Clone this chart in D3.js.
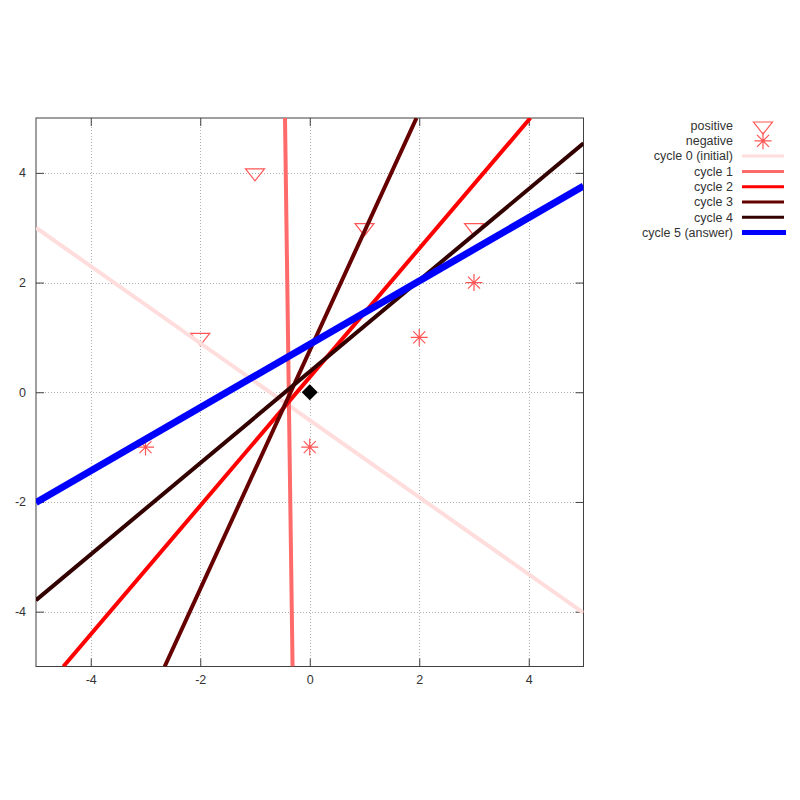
<!DOCTYPE html>
<html><head><meta charset="utf-8">
<script src="https://cdn.jsdelivr.net/npm/d3@7"></script>
<style>body{margin:0;background:#fff}svg{display:block}</style>
</head><body>
<svg id="c" width="800" height="800"></svg>
<script>
const xTicks = [-4, -2, 0, 2, 4];
const yTicks = [-4, -2, 0, 2, 4];
const positive = [[-1, 4], [1, 3], [3, 3], [-2, 1]];
const negative = [[-3, -1], [0, -1], [2, 1], [3, 2]];
const origin = [[0, 0]];
const cycleNames = ["cycle 0 (initial)", "cycle 1", "cycle 2", "cycle 3", "cycle 4", "cycle 5 (answer)"];
// each line given by two points [x1, y1, x2, y2]
const cycleLines = [
  [-5, 3.0, 5, -4.02],
  [-0.452, 5, -0.314, -5],
  [-4.50, -5, 4.03, 5],
  [-2.65, -5, 1.95, 5],
  [-5, -3.79, 5, 4.54],
  [-5, -2.01, 5, 3.76]
];
const cycleColors = ["#ffdddd", "#ff6b6b", "#ff0000", "#660000", "#330000", "#0000ff"];
const cycleWidths = [4, 4, 4, 4, 4, 7];

const svg = d3.select("#c");
const L = 36, R = 583.5, T = 118, B = 666.5;
const x = d3.scaleLinear().domain([-5, 5]).range([L, R]);
const y = d3.scaleLinear().domain([-5, 5]).range([B, T]);
const font = "'Liberation Sans', Arial, sans-serif";
const fmt = d => String(d);

svg.append("defs").append("clipPath").attr("id", "clip")
  .append("rect").attr("x", L).attr("y", T).attr("width", R - L).attr("height", B - T);

// grid
const grid = svg.append("g").attr("stroke", "#b0b0b0").attr("stroke-width", 1).attr("stroke-dasharray", "1,2");
grid.selectAll(".gx").data(xTicks).join("line")
  .attr("x1", d => Math.round(x(d)) + 0.5).attr("x2", d => Math.round(x(d)) + 0.5)
  .attr("y1", T).attr("y2", B);
grid.selectAll(".gy").data(yTicks).join("line")
  .attr("y1", d => Math.round(y(d)) + 0.5).attr("y2", d => Math.round(y(d)) + 0.5)
  .attr("x1", L).attr("x2", R);

// axes
function styleAxis(g) {
  g.select(".domain").remove();
  g.selectAll(".tick line").attr("stroke", "#404040");
  g.selectAll(".tick text").attr("fill", "#333").attr("font-family", font).attr("font-size", "12.5px");
}
svg.append("g").attr("transform", `translate(0,${B})`)
  .call(d3.axisBottom(x).tickValues(xTicks).tickSize(-8).tickPadding(9).tickFormat(fmt))
  .call(styleAxis);
svg.append("g").attr("transform", `translate(0,${T})`)
  .call(d3.axisTop(x).tickValues(xTicks).tickSize(-8).tickFormat(""))
  .call(styleAxis);
svg.append("g").attr("transform", `translate(${L},0)`)
  .call(d3.axisLeft(y).tickValues(yTicks).tickSize(-8).tickPadding(10).tickFormat(fmt))
  .call(styleAxis);
svg.append("g").attr("transform", `translate(${R},0)`)
  .call(d3.axisRight(y).tickValues(yTicks).tickSize(-8).tickFormat(""))
  .call(styleAxis);

// frame
svg.append("rect").attr("x", L).attr("y", T).attr("width", R - L).attr("height", B - T)
  .attr("fill", "none").attr("stroke", "#404040").attr("stroke-width", 1);

// point symbol builders
function triPath(cx, cy) {
  return `M${cx - 9.5},${cy - 4}L${cx + 9.5},${cy - 4}L${cx},${cy + 8}Z`;
}
function starPath(cx, cy) {
  const r = 8.5, d = 6;
  return `M${cx - r},${cy}L${cx + r},${cy}M${cx},${cy - r}L${cx},${cy + r}` +
    `M${cx - d},${cy - d}L${cx + d},${cy + d}M${cx - d},${cy + d}L${cx + d},${cy - d}`;
}
const ptColor = "#ff5555";
const plot = svg.append("g").attr("clip-path", "url(#clip)");
plot.selectAll(".pos").data(positive).join("path")
  .attr("d", d => triPath(x(d[0]), y(d[1])))
  .attr("fill", "none").attr("stroke", ptColor).attr("stroke-width", 1.2);
plot.selectAll(".neg").data(negative).join("path")
  .attr("d", d => starPath(x(d[0]), y(d[1])))
  .attr("fill", "none").attr("stroke", ptColor).attr("stroke-width", 1.2);

// cycle lines
plot.selectAll(".cyc").data(cycleLines).join("line")
  .attr("x1", d => x(d[0])).attr("y1", d => y(d[1]))
  .attr("x2", d => x(d[2])).attr("y2", d => y(d[3]))
  .attr("stroke", (d, i) => cycleColors[i]).attr("stroke-width", (d, i) => cycleWidths[i]);

// origin diamond
plot.selectAll(".org").data(origin).join("path")
  .attr("d", d => { const cx = x(d[0]), cy = y(d[1]), r = 8; return `M${cx},${cy - r}L${cx + r},${cy}L${cx},${cy + r}L${cx - r},${cy}Z`; })
  .attr("fill", "#000");

// legend
const legNames = ["positive", "negative"].concat(cycleNames);
const legY0 = 125.5, legDy = 15.3, textX = 733, sx1 = 742, sx2 = 784, sxm = 763;
const leg = svg.append("g");
leg.selectAll("text").data(legNames).join("text")
  .attr("x", textX).attr("y", (d, i) => legY0 + i * legDy).attr("dy", "0.35em")
  .attr("text-anchor", "end").attr("font-family", font).attr("font-size", "12.5px").attr("fill", "#333")
  .text(d => d);
leg.append("path").attr("d", triPath(sxm, legY0 + 0.5)).attr("fill", "none").attr("stroke", ptColor).attr("stroke-width", 1.2);
leg.append("path").attr("d", starPath(sxm, legY0 + legDy)).attr("fill", "none").attr("stroke", ptColor).attr("stroke-width", 1.2);
leg.selectAll(".ll").data(cycleNames).join("line")
  .attr("x1", sx1).attr("x2", (d, i) => i === 5 ? sx2 + 2 : sx2)
  .attr("y1", (d, i) => legY0 + (i + 2) * legDy).attr("y2", (d, i) => legY0 + (i + 2) * legDy)
  .attr("stroke", (d, i) => cycleColors[i]).attr("stroke-width", (d, i) => i === 5 ? 5 : 3);
</script>
</body></html>
